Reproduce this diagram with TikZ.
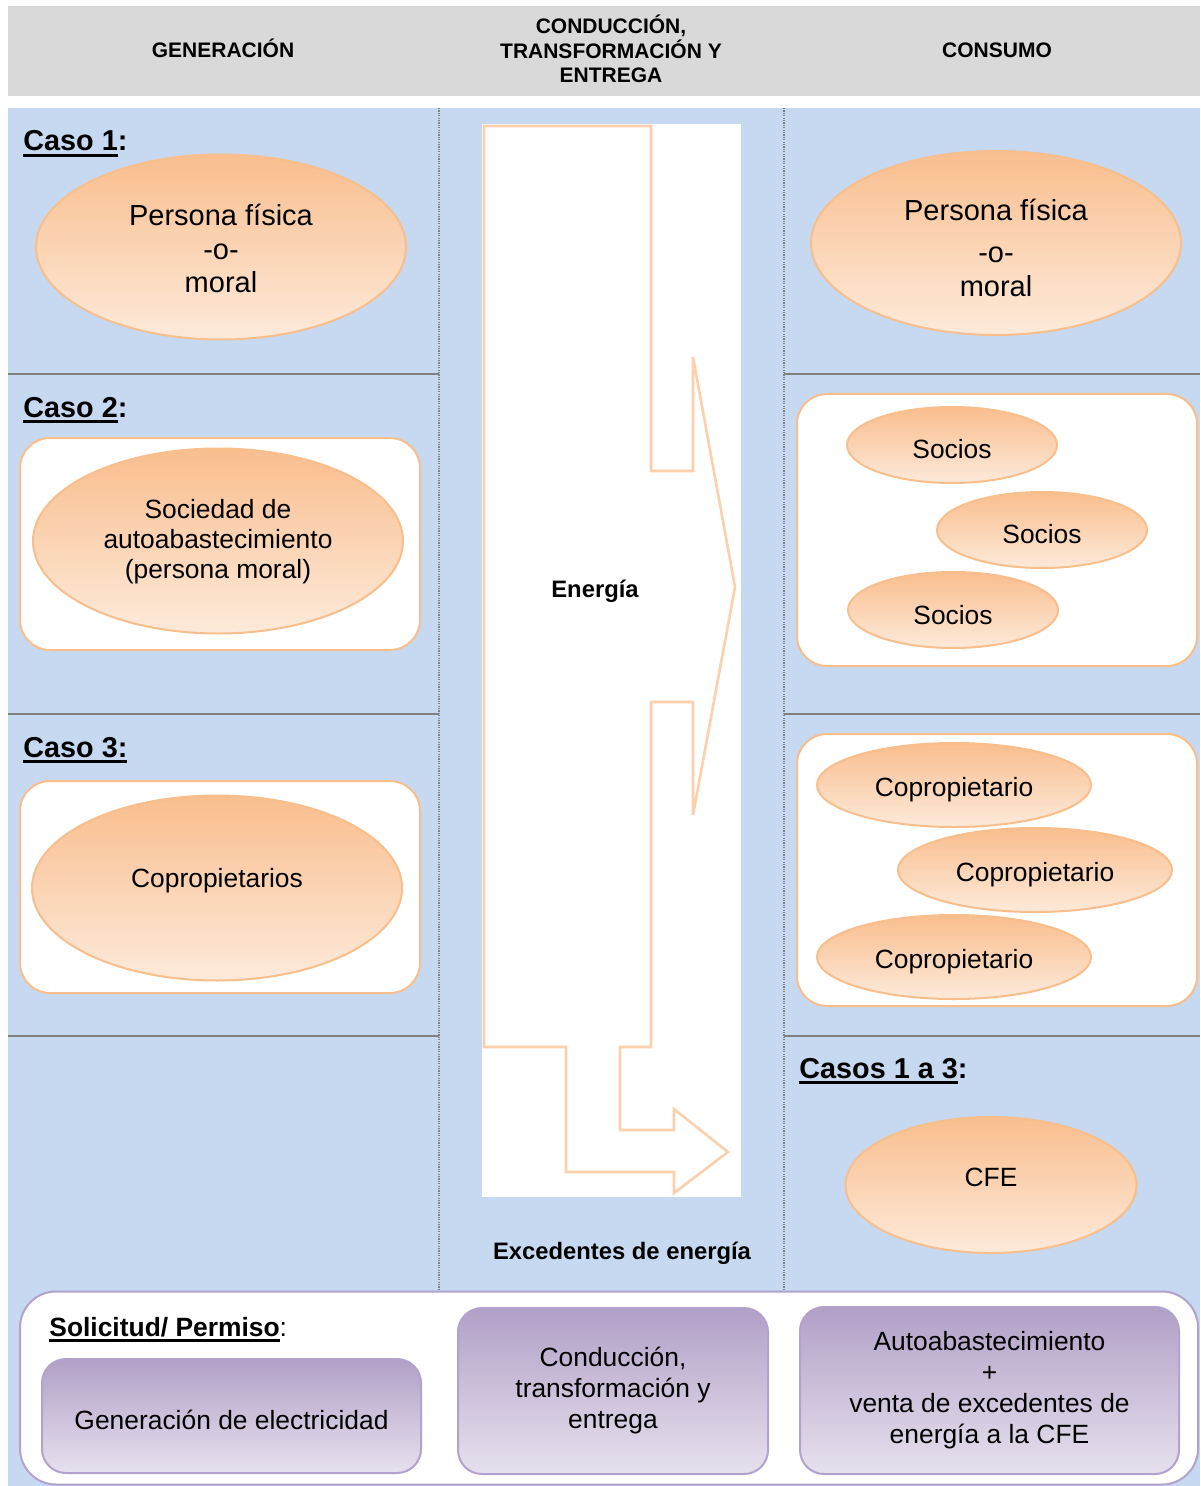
\documentclass[tikz,border=0pt]{standalone}
\usepackage{fontspec}
\setmainfont{Liberation Sans}
\usetikzlibrary{shapes.geometric}
\definecolor{hdrgray}{RGB}{217,217,217}
\definecolor{bluebg}{RGB}{198,217,240}
\definecolor{orline}{RGB}{248,190,140}
\definecolor{ortop}{RGB}{249,190,142}
\definecolor{orbot}{RGB}{253,234,218}
\definecolor{arrowc}{RGB}{252,208,172}
\definecolor{pptop}{RGB}{177,160,199}
\definecolor{ppbot}{RGB}{231,225,238}
\definecolor{ppline}{RGB}{178,162,205}
\definecolor{sepgray}{RGB}{128,128,128}
\newcommand{\myunderline}[1]{\setbox0\hbox{#1}\rlap{\rule[-2.9pt]{\wd0}{1.5pt}}\box0}
\begin{document}
\begin{tikzpicture}[x=0.5pt,y=-0.5pt,
  ell/.style={ellipse, draw=orline, line width=1pt, top color=ortop, bottom color=orbot, inner sep=0pt},
  etxt/.style={inner sep=0pt, align=center, font=\fontsize{13.2}{15}\selectfont},
  wbox/.style={rectangle, rounded corners=15pt, draw=orline, line width=1pt, fill=white, inner sep=0pt},
  pbox/.style={rectangle, rounded corners=12pt, draw=ppline, line width=1pt, top color=pptop, bottom color=ppbot, inner sep=0pt, align=center, font=\fontsize{13.2}{15.5}\selectfont},
  hdrtxt/.style={font=\bfseries\fontsize{10.5}{12.25}\selectfont, align=center},
  casetxt/.style={font=\bfseries\fontsize{14.4}{16}\selectfont, anchor=base west, inner sep=0pt},
  midtxt/.style={font=\bfseries\fontsize{11.9}{14}\selectfont},
  sepline/.style={draw=sepgray, line width=1pt},
  vsep/.style={draw=sepgray, line width=0.9pt, dash pattern=on 0.6pt off 0.6pt}]
\useasboundingbox (0,0) rectangle (1200,1486);
% header
\fill[hdrgray] (8,6) rectangle (1200,96);
\node[hdrtxt] (h1) at (223,48) {GENERACIÓN};
\node[hdrtxt] (h2) at (611,49) {CONDUCCIÓN,\\TRANSFORMACIÓN Y\\ENTREGA};
\node[hdrtxt] (h3) at (997,50) {CONSUMO};
% background
\fill[bluebg] (8,108) rectangle (1200,1486);
\draw[vsep] (439,108) -- (439,1290);
\draw[vsep] (784,108) -- (784,1290);
\foreach \yy in {374,714,1036}{
  \draw[sepline] (8,\yy) -- (439,\yy);
  \draw[sepline] (784,\yy) -- (1200,\yy);
}
% middle column
\fill[white] (482,124) rectangle (741,1197);
\draw[arrowc, line width=1.3pt, line join=miter]
  (484,126) -- (651,126) -- (651,471) -- (693,471) -- (693,357) -- (735,587)
  -- (693,815) -- (693,702) -- (651,702) -- (651,1047) -- (620,1047)
  -- (620,1130) -- (674,1130) -- (674,1109) -- (728,1152) -- (674,1193)
  -- (674,1172) -- (566,1172) -- (566,1047) -- (484,1047) -- cycle;
\node[midtxt] (en) at (595,591) {Energía};
\node[midtxt] (ex) at (622,1253) {Excedentes de energía};
% left column
\node[casetxt] (c1) at (23,151) {\myunderline{Caso 1}:};
\node[ell, minimum width=185pt, minimum height=92.5pt] (g1) at (221,247) {};
\node[etxt, font=\fontsize{14.5}{16.7}\selectfont] (g1t) at (221,248.5) {Persona física\\-o-\\moral};
\node[casetxt] (c2) at (23,417) {\myunderline{Caso 2}:};
\node[wbox, minimum width=200pt, minimum height=106pt] (b2) at (220,544) {};
\node[ell, minimum width=185pt, minimum height=92.5pt] (g2) at (218,541) {};
\node[etxt] (g2t) at (218,542) {Sociedad de\\autoabastecimiento\\(persona moral)};
\node[casetxt] (c3) at (23,757) {\myunderline{Caso 3:}};
\node[wbox, minimum width=200pt, minimum height=106pt] (b3) at (220,887) {};
\node[ell, minimum width=185pt, minimum height=92.5pt] (g3) at (217,888) {};
\node[etxt] (g3t) at (217,881) {Copropietarios};
% right column
\node[ell, minimum width=185pt, minimum height=92pt] (r1) at (996,243) {};
\node[etxt, font=\fontsize{14.5}{17}\selectfont] (r1t) at (996,248) {Persona física\\[4pt]-o-\\moral};
\node[wbox, minimum width=200pt, minimum height=136pt] (rb2) at (997,530) {};
\node[ell, minimum width=105pt, minimum height=38pt] (s1) at (952,445) {};
\node[etxt] (s1t) at (952,449) {Socios};
\node[ell, minimum width=105pt, minimum height=38pt] (s2) at (1042,530) {};
\node[etxt] (s2t) at (1042,534) {Socios};
\node[ell, minimum width=105pt, minimum height=38pt] (s3) at (953,610) {};
\node[etxt] (s3t) at (953,615) {Socios};
\node[wbox, minimum width=200pt, minimum height=136pt] (rb3) at (997,870) {};
\node[ell, minimum width=137pt, minimum height=42pt] (p1) at (954,785) {};
\node[etxt] (p1t) at (954,790) {Copropietario};
\node[ell, minimum width=137pt, minimum height=42pt] (p2) at (1035,870) {};
\node[etxt] (p2t) at (1035,875) {Copropietario};
\node[ell, minimum width=137pt, minimum height=42pt] (p3) at (954,957) {};
\node[etxt] (p3t) at (954,962) {Copropietario};
\node[casetxt] (c4) at (799,1078) {\myunderline{Casos 1 a 3}:};
\node[ell, minimum width=145.5pt, minimum height=68pt] (cfe) at (991,1185) {};
\node[etxt] (cfet) at (991,1177) {CFE};
% bottom panel
\node[rectangle, rounded corners=18pt, draw=ppline, line width=1pt, fill=white, minimum width=589pt, minimum height=96.5pt, inner sep=0pt] (bot) at (609,1388) {};
\node[anchor=base west, inner sep=0pt, font=\bfseries\fontsize{13.2}{15}\selectfont] (sol) at (49,1336) {\myunderline{Solicitud/ Permiso}\textmd{:}};
\node[pbox, minimum width=189.5pt, minimum height=57pt] (q1) at (231.5,1416) {};
\node[etxt] (q1t) at (231.5,1420) {Generación de electricidad};
\node[pbox, minimum width=155pt, minimum height=83pt] (q2) at (613,1391) {Conducción,\\transformación y\\entrega};
\node[pbox, minimum width=189.5pt, minimum height=83.5pt] (q3) at (989.5,1390.5) {Autoabastecimiento\\+\\venta de excedentes de\\energía a la CFE};
\end{tikzpicture}
\end{document}
